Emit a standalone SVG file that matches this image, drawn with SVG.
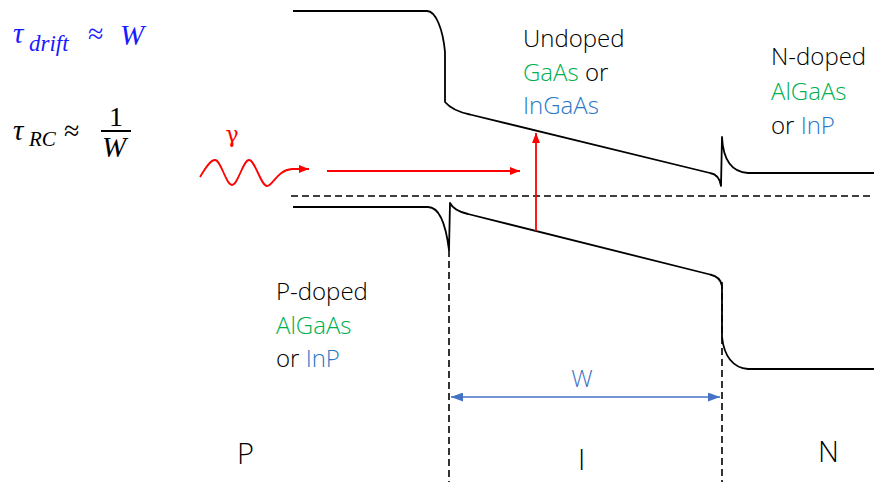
<svg xmlns="http://www.w3.org/2000/svg" width="874" height="482" viewBox="0 0 874 482">
  <style>
    .band { fill: none; stroke: #000; stroke-width: 1.8; stroke-linejoin: round; }
    .dash { fill: none; stroke: #000; stroke-width: 1.6; stroke-dasharray: 7 4; }
    .ray { fill: none; stroke: #FF0000; stroke-width: 1.8; }
    .lbl { font-family: "Open Sans", "Liberation Sans", sans-serif; font-weight: 300; font-size: 24px; fill: #000; }
    .region { font-family: "Open Sans", "Liberation Sans", sans-serif; font-weight: 300; font-size: 29px; fill: #000; }
    .math { font-family: "Liberation Serif", "DejaVu Serif", serif; font-style: italic; }
    .grn { fill: #00B050; }
    .blu { fill: #2878C8; }
  </style>
  <defs>
    <marker id="headRed" markerUnits="userSpaceOnUse" markerWidth="10" markerHeight="8" refX="10" refY="4" orient="auto">
      <path d="M0,0 L10,4 L0,8 z" fill="#FF0000"/>
    </marker>
    <marker id="headBlue" markerUnits="userSpaceOnUse" markerWidth="12" markerHeight="9" refX="12" refY="4.5" orient="auto-start-reverse">
      <path d="M0,0 L12,4.5 L0,9 z" fill="#4472C4"/>
    </marker>
  </defs>

  <!-- formulas -->
  <g id="formula-drift" fill="#1A1AFF">
    <text x="13" y="43" class="math" font-size="29">τ</text>
    <text x="29" y="51" class="math" font-size="23">drift</text>
    <text x="88" y="43" font-family="Liberation Serif, serif" font-size="28">≈</text>
    <text x="120" y="45" class="math" font-size="29">W</text>
  </g>
  <g id="formula-rc" fill="#000">
    <text x="13" y="140" class="math" font-size="29">τ</text>
    <text x="29" y="146" class="math" font-size="21">RC</text>
    <text x="64" y="140" font-family="Liberation Serif, serif" font-size="28">≈</text>
    <text x="116" y="126" font-family="Liberation Serif, serif" font-size="28" text-anchor="middle">1</text>
    <line x1="101" y1="131" x2="131" y2="131" stroke="#000" stroke-width="2"/>
    <text x="102" y="157" class="math" font-size="29">W</text>
  </g>

  <!-- band diagram -->
  <g id="conduction-band">
    <path class="band" d="M293,11 L427,11 C436,11 443,30 445,52 L445,102 C450,108 458,112 470,114.5 L710,173 C716,174 720,178 721,186 L722,137 C723,158 731,172 748,173 L874,173"/>
  </g>
  <g id="valence-band">
    <path class="band" d="M293,207 L428,207 C437,207 445,218 449,250 L450,203 C453,209 459,212 468,214 L710,274.5 C717,276 721,279 722,286 L722,337 C724,356 733,368 748,369 L874,369"/>
  </g>
  <g id="fermi-level">
    <line class="dash" x1="291" y1="196" x2="874" y2="196"/>
  </g>

  <!-- photon and carriers -->
  <g id="photon">
    <text x="232" y="142" font-family="DejaVu Serif, serif" font-size="22" fill="#FF0000" text-anchor="middle">γ</text>
  </g>
  <g id="connectors">
    <path class="ray" marker-end="url(#headRed)" d="M200,177 C207,165 211,160 215,160 C221,160 226,185 232,185 C238,185 243,160 249,160 C255,160 261,186 267,186 C273,186 277,170 292,169 L309,169"/>
    <line class="ray" marker-end="url(#headRed)" x1="327" y1="171" x2="520" y2="171"/>
    <line class="ray" marker-end="url(#headRed)" x1="536" y1="231" x2="536" y2="133"/>
    <line class="dash" x1="449" y1="250" x2="449" y2="482"/>
    <line class="dash" x1="722" y1="282" x2="722" y2="482"/>
    <line x1="451" y1="397" x2="720" y2="397" stroke="#4472C4" stroke-width="1.5" marker-start="url(#headBlue)" marker-end="url(#headBlue)"/>
  </g>
  <g id="width-label">
    <text x="582" y="387" class="lbl" style="fill:#4472C4" text-anchor="middle">W</text>
  </g>

  <!-- material labels -->
  <g id="label-undoped" class="lbl">
    <text x="523" y="47">Undoped</text>
    <text x="523" y="81"><tspan class="grn">GaAs</tspan> or</text>
    <text x="523" y="114" class="blu">InGaAs</text>
  </g>
  <g id="label-ndoped" class="lbl">
    <text x="771" y="65">N-doped</text>
    <text x="771" y="100" class="grn">AlGaAs</text>
    <text x="771" y="134">or <tspan class="blu">InP</tspan></text>
  </g>
  <g id="label-pdoped" class="lbl">
    <text x="276" y="300">P-doped</text>
    <text x="276" y="334" class="grn">AlGaAs</text>
    <text x="276" y="367">or <tspan class="blu">InP</tspan></text>
  </g>

  <!-- region names -->
  <g id="region-p"><text x="237" y="464" class="region">P</text></g>
  <g id="region-i"><text x="578" y="470" class="region">I</text></g>
  <g id="region-n"><text x="818" y="462" class="region">N</text></g>
</svg>
